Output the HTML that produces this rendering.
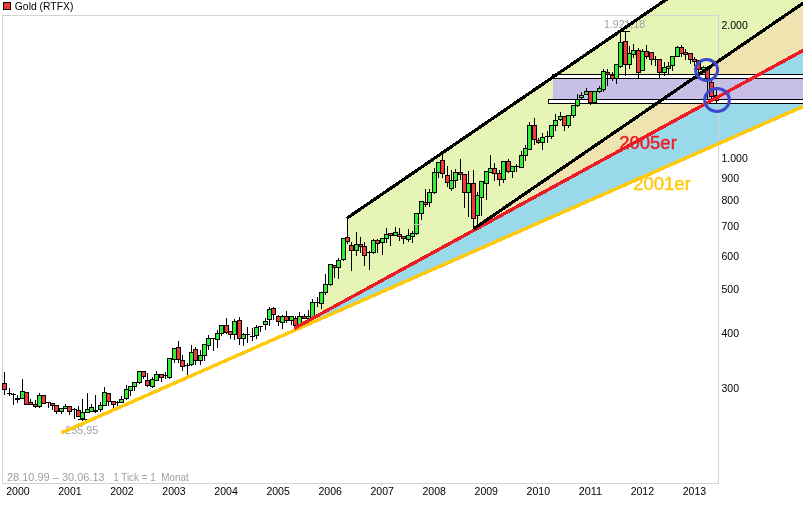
<!DOCTYPE html><html><head><meta charset="utf-8"><title>Gold (RTFX)</title><style>
html,body{margin:0;padding:0;background:#fff;}body{width:803px;height:506px;overflow:hidden;position:relative;}
svg{position:absolute;left:0;top:0;display:block;will-change:transform;}
text{font-family:"Liberation Sans",Arial,sans-serif;}
</style></head><body>
<svg width="803" height="506" viewBox="0 0 803 506">
<polygon fill="#e6f5b6" points="347.5,218.4 669.88,-3 806,-3 806,1.18 473.3,229.1 315.5,316.77 313,316.6 313,302.3 317.5,302.2 321.5,303 321.5,292.5 325.5,292.5 325.5,284.5 330.5,284.4 330.5,264.4 334.5,265.8 339.5,266.8 339.5,260.7 343.5,259.5 343.5,238.4 347.5,238"/>
<polygon fill="#efe4b0" points="497,212.86 806,1.18 806,48.86 497,217.63"/>
<polygon fill="#99d9ea" points="320,314.31 806,48.86 806,105.18 320,319.08"/>
<rect x="553" y="79" width="250" height="20" fill="#c8bfe7"/>
<g shape-rendering="crispEdges" stroke="#d4d4d4" stroke-width="1" fill="none">
<path d="M2.5 15.5H718.5V483.5H2.5Z"/>
<path d="M17.5 483V485M69.5 483V485M121.5 483V485M173.5 483V485M225.5 483V485M277.5 483V485M329.5 483V485M381.5 483V485M433.5 483V485M485.5 483V485M537.5 483V485M589.5 483V485M641.5 483V485M693.5 483V485"/>
</g>
<g shape-rendering="crispEdges" stroke="#000" stroke-width="1" fill="#fff">
<rect x="552.5" y="74.5" width="252" height="4"/>
<rect x="548.5" y="99.5" width="256" height="4"/>
</g>
<g font-size="11" fill="#000">
<rect x="3.5" y="2.5" width="7" height="7" fill="#f03a3a" stroke="#000" stroke-width="1" shape-rendering="crispEdges"/>
<text x="14.8" y="10.2" font-size="10.5" textLength="58.6" lengthAdjust="spacingAndGlyphs">Gold (RTFX)</text>
<text x="17.9" y="495" text-anchor="middle" textLength="23.4" lengthAdjust="spacingAndGlyphs">2000</text>
<text x="69.94" y="495" text-anchor="middle" textLength="23.4" lengthAdjust="spacingAndGlyphs">2001</text>
<text x="121.98" y="495" text-anchor="middle" textLength="23.4" lengthAdjust="spacingAndGlyphs">2002</text>
<text x="174.02" y="495" text-anchor="middle" textLength="23.4" lengthAdjust="spacingAndGlyphs">2003</text>
<text x="226.06" y="495" text-anchor="middle" textLength="23.4" lengthAdjust="spacingAndGlyphs">2004</text>
<text x="278.1" y="495" text-anchor="middle" textLength="23.4" lengthAdjust="spacingAndGlyphs">2005</text>
<text x="330.14" y="495" text-anchor="middle" textLength="23.4" lengthAdjust="spacingAndGlyphs">2006</text>
<text x="382.18" y="495" text-anchor="middle" textLength="23.4" lengthAdjust="spacingAndGlyphs">2007</text>
<text x="434.22" y="495" text-anchor="middle" textLength="23.4" lengthAdjust="spacingAndGlyphs">2008</text>
<text x="486.26" y="495" text-anchor="middle" textLength="23.4" lengthAdjust="spacingAndGlyphs">2009</text>
<text x="538.3" y="495" text-anchor="middle" textLength="23.4" lengthAdjust="spacingAndGlyphs">2010</text>
<text x="590.34" y="495" text-anchor="middle" textLength="23.4" lengthAdjust="spacingAndGlyphs">2011</text>
<text x="642.38" y="495" text-anchor="middle" textLength="23.4" lengthAdjust="spacingAndGlyphs">2012</text>
<text x="694.42" y="495" text-anchor="middle" textLength="23.4" lengthAdjust="spacingAndGlyphs">2013</text>
<text x="721.5" y="28.7" textLength="26.29" lengthAdjust="spacingAndGlyphs">2.000</text>
<text x="721.5" y="161.7" textLength="26.29" lengthAdjust="spacingAndGlyphs">1.000</text>
<text x="721.5" y="181.8" textLength="17.53" lengthAdjust="spacingAndGlyphs">900</text>
<text x="721.5" y="203.5" textLength="17.53" lengthAdjust="spacingAndGlyphs">800</text>
<text x="721.5" y="229.7" textLength="17.53" lengthAdjust="spacingAndGlyphs">700</text>
<text x="721.5" y="259.7" textLength="17.53" lengthAdjust="spacingAndGlyphs">600</text>
<text x="721.5" y="293.4" textLength="17.53" lengthAdjust="spacingAndGlyphs">500</text>
<text x="721.5" y="336.6" textLength="17.53" lengthAdjust="spacingAndGlyphs">400</text>
<text x="721.5" y="391.9" textLength="17.53" lengthAdjust="spacingAndGlyphs">300</text>
</g>
<g font-size="11" fill="#a0a0a0">
<text x="7" y="480.6" font-size="10.5" textLength="97.6" lengthAdjust="spacingAndGlyphs">28.10.99 – 30.06.13</text>
<text x="113.2" y="480.6" font-size="10.5" textLength="75.5" lengthAdjust="spacingAndGlyphs">1 Tick = 1 &#160;Monat</text>
<text x="65.3" y="433.5" textLength="33" lengthAdjust="spacingAndGlyphs">255,95</text>
<text x="604" y="27.8" textLength="41" lengthAdjust="spacingAndGlyphs">1.921,18</text>
</g>
<path d="M4.5 372V395M9.5 388V396M13.5 393V405M17.5 395V403M22.5 379V399M30.5 399V405M35.5 400V408M39.5 393V408M48.5 402V408M52.5 403V410M56.5 405V414M61.5 408V414M65.5 404V409M69.5 406V415M74.5 408V419M78.5 406V417M82.5 399V421M87.5 393V413M91.5 404V412M95.5 395V413M100.5 402V412M104.5 387V406M108.5 393V406M113.5 401V408M117.5 401V408M121.5 396V403M126.5 385V400M130.5 386V396M134.5 382V391M139.5 371V384M143.5 371V379M147.5 373V387M152.5 377V388M156.5 371V381M161.5 374V382M165.5 372V379M169.5 358V379M174.5 348V363M178.5 341V363M182.5 355V371M187.5 363V377M191.5 345V366M195.5 347V365M200.5 350V365M204.5 344V361M208.5 335V350M213.5 338V351M217.5 330V348M221.5 325V336M226.5 318V334M230.5 331V339M234.5 319V340M239.5 317V345M243.5 333V346M247.5 327V343M252.5 328V341M256.5 325V339M260.5 326V332M265.5 318V330M269.5 307V326M273.5 307V320M278.5 315V326M282.5 315V329M286.5 311V323M291.5 316V325M295.5 316V328M299.5 312V325M304.5 314V319M308.5 310V320M312.5 299V318M317.5 297V307M321.5 292V309M325.5 274V295M330.5 264V286M334.5 265V278M338.5 258V279M343.5 238V261M347.5 219V244M351.5 242V271M356.5 232V256M360.5 237V253M364.5 242V266M369.5 251V270M373.5 239V254M377.5 239V253M382.5 238V255M386.5 228V243M390.5 233V246M395.5 227V236M399.5 228V241M403.5 236V244M408.5 229V242M412.5 231V243M416.5 213V235M421.5 201V220M425.5 189V207M429.5 189V207M434.5 168V194M438.5 162V178M442.5 155V178M447.5 166V187M451.5 170V191M455.5 169V188M460.5 159V180M464.5 174V208M468.5 171V217M473.5 170V230M477.5 192V227M481.5 181V216M486.5 171V200M490.5 155V173M494.5 163V181M499.5 170V186M503.5 161V183M508.5 159V173M512.5 166V178M516.5 164V172M521.5 151V168M525.5 145V161M529.5 122V150M534.5 118V145M538.5 138V144M542.5 133V150M547.5 131V143M551.5 125V139M555.5 114V131M560.5 112V121M564.5 116V131M568.5 115V128M573.5 105V118M577.5 94V107M581.5 92V99M586.5 88V95M590.5 91V105M599.5 86V93M603.5 69V92M607.5 69V86M612.5 72V81M616.5 64V84M620.5 31V68M625.5 31V76M629.5 46V69M633.5 44V58M638.5 48V78M642.5 49V71M646.5 45V59M651.5 52V65M655.5 56V66M659.5 59V78M664.5 62V76M668.5 62V74M672.5 56V71M677.5 46V57M681.5 45V57M685.5 49V60M690.5 53V64M694.5 57V66M698.5 60V73M703.5 66V73M707.5 66V99M711.5 78V99M716.5 90V103" stroke="#000" stroke-width="1" fill="none" shape-rendering="crispEdges"/>
<g shape-rendering="crispEdges" stroke-width="1">
<rect x="2.5" y="383.5" width="4" height="6" fill="#f03a3a" stroke="#000"/><rect x="7" y="393" width="5" height="1" fill="#000"/><rect x="11" y="394" width="5" height="1" fill="#000"/><rect x="15" y="398" width="5" height="2" fill="#000"/><rect x="20.5" y="391.5" width="4" height="7" fill="#30ee30" stroke="#000"/><rect x="24.5" y="392.5" width="4" height="12" fill="#f03a3a" stroke="#000"/><rect x="28.5" y="402.5" width="4" height="2" fill="#f03a3a" stroke="#000"/><rect x="33.5" y="404.5" width="4" height="2" fill="#f03a3a" stroke="#000"/><rect x="37.5" y="395.5" width="4" height="11" fill="#30ee30" stroke="#000"/><rect x="41.5" y="395.5" width="4" height="8" fill="#f03a3a" stroke="#000"/><rect x="46" y="402" width="5" height="1" fill="#000"/><rect x="50.5" y="403.5" width="4" height="2" fill="#f03a3a" stroke="#000"/><rect x="54.5" y="405.5" width="4" height="6" fill="#f03a3a" stroke="#000"/><rect x="59.5" y="408.5" width="4" height="3" fill="#30ee30" stroke="#000"/><rect x="63.5" y="406.5" width="4" height="2" fill="#30ee30" stroke="#000"/><rect x="67.5" y="406.5" width="4" height="5" fill="#f03a3a" stroke="#000"/><rect x="72" y="409" width="5" height="1" fill="#000"/><rect x="76.5" y="410.5" width="4" height="6" fill="#f03a3a" stroke="#000"/><rect x="80.5" y="412.5" width="4" height="6" fill="#30ee30" stroke="#000"/><rect x="85.5" y="409.5" width="4" height="3" fill="#30ee30" stroke="#000"/><rect x="89.5" y="407.5" width="4" height="4" fill="#30ee30" stroke="#000"/><rect x="93" y="410" width="5" height="2" fill="#000"/><rect x="98.5" y="405.5" width="4" height="4" fill="#30ee30" stroke="#000"/><rect x="102.5" y="392.5" width="4" height="13" fill="#30ee30" stroke="#000"/><rect x="106.5" y="393.5" width="4" height="8" fill="#f03a3a" stroke="#000"/><rect x="111.5" y="401.5" width="4" height="3" fill="#f03a3a" stroke="#000"/><rect x="115" y="402" width="5" height="1" fill="#000"/><rect x="119.5" y="399.5" width="4" height="3" fill="#30ee30" stroke="#000"/><rect x="124.5" y="389.5" width="4" height="9" fill="#30ee30" stroke="#000"/><rect x="128.5" y="386.5" width="4" height="4" fill="#30ee30" stroke="#000"/><rect x="132.5" y="382.5" width="4" height="4" fill="#30ee30" stroke="#000"/><rect x="137.5" y="371.5" width="4" height="11" fill="#30ee30" stroke="#000"/><rect x="141.5" y="371.5" width="4" height="5" fill="#f03a3a" stroke="#000"/><rect x="145.5" y="380.5" width="4" height="5" fill="#f03a3a" stroke="#000"/><rect x="150.5" y="379.5" width="4" height="7" fill="#30ee30" stroke="#000"/><rect x="154.5" y="374.5" width="4" height="6" fill="#30ee30" stroke="#000"/><rect x="159.5" y="374.5" width="4" height="3" fill="#f03a3a" stroke="#000"/><rect x="163" y="375" width="5" height="1" fill="#000"/><rect x="167.5" y="358.5" width="4" height="19" fill="#30ee30" stroke="#000"/><rect x="172.5" y="348.5" width="4" height="11" fill="#30ee30" stroke="#000"/><rect x="176.5" y="347.5" width="4" height="12" fill="#f03a3a" stroke="#000"/><rect x="180.5" y="360.5" width="4" height="6" fill="#f03a3a" stroke="#000"/><rect x="185" y="365" width="5" height="1" fill="#000"/><rect x="189.5" y="352.5" width="4" height="12" fill="#30ee30" stroke="#000"/><rect x="193.5" y="349.5" width="4" height="11" fill="#f03a3a" stroke="#000"/><rect x="198.5" y="355.5" width="4" height="5" fill="#30ee30" stroke="#000"/><rect x="202.5" y="344.5" width="4" height="11" fill="#30ee30" stroke="#000"/><rect x="206.5" y="338.5" width="4" height="7" fill="#30ee30" stroke="#000"/><rect x="211" y="338" width="5" height="1" fill="#000"/><rect x="215.5" y="333.5" width="4" height="6" fill="#30ee30" stroke="#000"/><rect x="219.5" y="325.5" width="4" height="8" fill="#30ee30" stroke="#000"/><rect x="224.5" y="325.5" width="4" height="7" fill="#f03a3a" stroke="#000"/><rect x="228.5" y="331.5" width="4" height="3" fill="#f03a3a" stroke="#000"/><rect x="232.5" y="321.5" width="4" height="13" fill="#30ee30" stroke="#000"/><rect x="237.5" y="320.5" width="4" height="18" fill="#f03a3a" stroke="#000"/><rect x="241.5" y="334.5" width="4" height="4" fill="#30ee30" stroke="#000"/><rect x="245" y="334" width="5" height="1" fill="#000"/><rect x="250" y="336" width="5" height="1" fill="#000"/><rect x="254.5" y="327.5" width="4" height="8" fill="#30ee30" stroke="#000"/><rect x="258" y="326" width="5" height="1" fill="#000"/><rect x="263.5" y="321.5" width="4" height="3" fill="#30ee30" stroke="#000"/><rect x="267.5" y="309.5" width="4" height="10" fill="#30ee30" stroke="#000"/><rect x="271.5" y="308.5" width="4" height="6" fill="#f03a3a" stroke="#000"/><rect x="276.5" y="316.5" width="4" height="5" fill="#f03a3a" stroke="#000"/><rect x="280.5" y="316.5" width="4" height="6" fill="#30ee30" stroke="#000"/><rect x="284.5" y="316.5" width="4" height="4" fill="#f03a3a" stroke="#000"/><rect x="289.5" y="316.5" width="4" height="4" fill="#30ee30" stroke="#000"/><rect x="293.5" y="318.5" width="4" height="7" fill="#f03a3a" stroke="#000"/><rect x="297.5" y="316.5" width="4" height="8" fill="#30ee30" stroke="#000"/><rect x="302.5" y="316.5" width="4" height="2" fill="#f03a3a" stroke="#000"/><rect x="306.5" y="316.5" width="4" height="2" fill="#30ee30" stroke="#000"/><rect x="310.5" y="302.5" width="4" height="15" fill="#30ee30" stroke="#000"/><rect x="315" y="302" width="5" height="1" fill="#000"/><rect x="319.5" y="292.5" width="4" height="11" fill="#30ee30" stroke="#000"/><rect x="323.5" y="284.5" width="4" height="8" fill="#30ee30" stroke="#000"/><rect x="328.5" y="264.5" width="4" height="20" fill="#30ee30" stroke="#000"/><rect x="332.5" y="265.5" width="4" height="2" fill="#f03a3a" stroke="#000"/><rect x="336.5" y="260.5" width="4" height="7" fill="#30ee30" stroke="#000"/><rect x="341.5" y="238.5" width="4" height="21" fill="#30ee30" stroke="#000"/><rect x="345.5" y="237.5" width="4" height="4" fill="#f03a3a" stroke="#000"/><rect x="349.5" y="245.5" width="4" height="5" fill="#f03a3a" stroke="#000"/><rect x="354.5" y="244.5" width="4" height="6" fill="#30ee30" stroke="#000"/><rect x="358.5" y="244.5" width="4" height="2" fill="#f03a3a" stroke="#000"/><rect x="362.5" y="246.5" width="4" height="9" fill="#f03a3a" stroke="#000"/><rect x="367" y="252" width="5" height="1" fill="#000"/><rect x="371.5" y="240.5" width="4" height="12" fill="#30ee30" stroke="#000"/><rect x="375.5" y="240.5" width="4" height="3" fill="#f03a3a" stroke="#000"/><rect x="380.5" y="238.5" width="4" height="4" fill="#30ee30" stroke="#000"/><rect x="384.5" y="234.5" width="4" height="4" fill="#30ee30" stroke="#000"/><rect x="388.5" y="233.5" width="4" height="2" fill="#f03a3a" stroke="#000"/><rect x="393.5" y="232.5" width="4" height="3" fill="#30ee30" stroke="#000"/><rect x="397.5" y="234.5" width="4" height="2" fill="#f03a3a" stroke="#000"/><rect x="401.5" y="236.5" width="4" height="2" fill="#f03a3a" stroke="#000"/><rect x="406.5" y="235.5" width="4" height="4" fill="#30ee30" stroke="#000"/><rect x="410.5" y="233.5" width="4" height="3" fill="#30ee30" stroke="#000"/><rect x="414.5" y="213.5" width="4" height="20" fill="#30ee30" stroke="#000"/><rect x="419.5" y="201.5" width="4" height="12" fill="#30ee30" stroke="#000"/><rect x="423.5" y="202.5" width="4" height="2" fill="#f03a3a" stroke="#000"/><rect x="427.5" y="192.5" width="4" height="10" fill="#30ee30" stroke="#000"/><rect x="432.5" y="172.5" width="4" height="20" fill="#30ee30" stroke="#000"/><rect x="436.5" y="162.5" width="4" height="10" fill="#30ee30" stroke="#000"/><rect x="440.5" y="160.5" width="4" height="13" fill="#f03a3a" stroke="#000"/><rect x="445.5" y="175.5" width="4" height="7" fill="#f03a3a" stroke="#000"/><rect x="449.5" y="180.5" width="4" height="8" fill="#30ee30" stroke="#000"/><rect x="453.5" y="172.5" width="4" height="8" fill="#30ee30" stroke="#000"/><rect x="458.5" y="172.5" width="4" height="2" fill="#f03a3a" stroke="#000"/><rect x="462.5" y="174.5" width="4" height="18" fill="#f03a3a" stroke="#000"/><rect x="466.5" y="183.5" width="4" height="9" fill="#30ee30" stroke="#000"/><rect x="471.5" y="183.5" width="4" height="35" fill="#f03a3a" stroke="#000"/><rect x="475.5" y="195.5" width="4" height="20" fill="#30ee30" stroke="#000"/><rect x="479.5" y="181.5" width="4" height="16" fill="#30ee30" stroke="#000"/><rect x="484.5" y="171.5" width="4" height="12" fill="#30ee30" stroke="#000"/><rect x="488.5" y="168.5" width="4" height="4" fill="#30ee30" stroke="#000"/><rect x="492.5" y="168.5" width="4" height="5" fill="#f03a3a" stroke="#000"/><rect x="497.5" y="173.5" width="4" height="6" fill="#f03a3a" stroke="#000"/><rect x="501.5" y="161.5" width="4" height="18" fill="#30ee30" stroke="#000"/><rect x="506.5" y="161.5" width="4" height="10" fill="#f03a3a" stroke="#000"/><rect x="510.5" y="166.5" width="4" height="5" fill="#30ee30" stroke="#000"/><rect x="514" y="166" width="5" height="1" fill="#000"/><rect x="519.5" y="155.5" width="4" height="12" fill="#30ee30" stroke="#000"/><rect x="523.5" y="148.5" width="4" height="7" fill="#30ee30" stroke="#000"/><rect x="527.5" y="125.5" width="4" height="24" fill="#30ee30" stroke="#000"/><rect x="532.5" y="125.5" width="4" height="14" fill="#f03a3a" stroke="#000"/><rect x="536.5" y="140.5" width="4" height="2" fill="#f03a3a" stroke="#000"/><rect x="540.5" y="137.5" width="4" height="5" fill="#30ee30" stroke="#000"/><rect x="545" y="136" width="5" height="1" fill="#000"/><rect x="549.5" y="125.5" width="4" height="11" fill="#30ee30" stroke="#000"/><rect x="553.5" y="120.5" width="4" height="5" fill="#30ee30" stroke="#000"/><rect x="558.5" y="116.5" width="4" height="3" fill="#30ee30" stroke="#000"/><rect x="562.5" y="116.5" width="4" height="9" fill="#f03a3a" stroke="#000"/><rect x="566.5" y="115.5" width="4" height="10" fill="#30ee30" stroke="#000"/><rect x="571.5" y="105.5" width="4" height="10" fill="#30ee30" stroke="#000"/><rect x="575.5" y="99.5" width="4" height="6" fill="#30ee30" stroke="#000"/><rect x="579.5" y="95.5" width="4" height="2" fill="#30ee30" stroke="#000"/><rect x="584.5" y="91.5" width="4" height="3" fill="#30ee30" stroke="#000"/><rect x="588.5" y="91.5" width="4" height="11" fill="#f03a3a" stroke="#000"/><rect x="592.5" y="91.5" width="4" height="11" fill="#30ee30" stroke="#000"/><rect x="597.5" y="88.5" width="4" height="3" fill="#30ee30" stroke="#000"/><rect x="601.5" y="71.5" width="4" height="18" fill="#30ee30" stroke="#000"/><rect x="605.5" y="72.5" width="4" height="2" fill="#f03a3a" stroke="#000"/><rect x="610.5" y="75.5" width="4" height="3" fill="#f03a3a" stroke="#000"/><rect x="614.5" y="64.5" width="4" height="14" fill="#30ee30" stroke="#000"/><rect x="618.5" y="42.5" width="4" height="24" fill="#30ee30" stroke="#000"/><rect x="623.5" y="41.5" width="4" height="23" fill="#f03a3a" stroke="#000"/><rect x="627.5" y="53.5" width="4" height="11" fill="#30ee30" stroke="#000"/><rect x="631.5" y="50.5" width="4" height="4" fill="#30ee30" stroke="#000"/><rect x="636.5" y="50.5" width="4" height="22" fill="#f03a3a" stroke="#000"/><rect x="640.5" y="51.5" width="4" height="19" fill="#30ee30" stroke="#000"/><rect x="644.5" y="51.5" width="4" height="5" fill="#f03a3a" stroke="#000"/><rect x="649.5" y="52.5" width="4" height="7" fill="#f03a3a" stroke="#000"/><rect x="653" y="59" width="5" height="1" fill="#000"/><rect x="657.5" y="59.5" width="4" height="13" fill="#f03a3a" stroke="#000"/><rect x="662.5" y="67.5" width="4" height="5" fill="#30ee30" stroke="#000"/><rect x="666.5" y="66.5" width="4" height="2" fill="#30ee30" stroke="#000"/><rect x="670.5" y="56.5" width="4" height="9" fill="#30ee30" stroke="#000"/><rect x="675.5" y="47.5" width="4" height="9" fill="#30ee30" stroke="#000"/><rect x="679.5" y="47.5" width="4" height="6" fill="#f03a3a" stroke="#000"/><rect x="683.5" y="52.5" width="4" height="2" fill="#f03a3a" stroke="#000"/><rect x="688.5" y="53.5" width="4" height="6" fill="#f03a3a" stroke="#000"/><rect x="692.5" y="59.5" width="4" height="2" fill="#f03a3a" stroke="#000"/><rect x="696.5" y="60.5" width="4" height="9" fill="#f03a3a" stroke="#000"/><rect x="701.5" y="67.5" width="4" height="2" fill="#30ee30" stroke="#000"/><rect x="705.5" y="68.5" width="4" height="10" fill="#f03a3a" stroke="#000"/><rect x="709.5" y="82.5" width="4" height="14" fill="#f03a3a" stroke="#000"/><rect x="714.5" y="95.5" width="4" height="5" fill="#f03a3a" stroke="#000"/>
</g>
<path d="M413 224.5H422" stroke="#c4c4c4" stroke-width="1" shape-rendering="crispEdges"/>
<path d="M78 419.5H87M619.5 31.5H630" stroke="#000" stroke-width="1" shape-rendering="crispEdges"/>
<line x1="61.4" y1="432.9" x2="806" y2="105.18" stroke="#ffc90e" stroke-width="3.5" shape-rendering="crispEdges"/>
<line x1="294.2" y1="328.4" x2="806" y2="48.86" stroke="#ed1c24" stroke-width="3.4" shape-rendering="crispEdges"/>
<line x1="346.7" y1="218.4" x2="671.34" y2="-4" stroke="#000" stroke-width="3.2" shape-rendering="crispEdges"/>
<line x1="473.3" y1="229.1" x2="806" y2="1.18" stroke="#000" stroke-width="3.2" shape-rendering="crispEdges"/>
<ellipse cx="706.6" cy="70" rx="11" ry="10.5" fill="none" stroke="#3f48cc" stroke-width="3"/>
<ellipse cx="717" cy="100" rx="12.4" ry="11.5" fill="none" stroke="#3f48cc" stroke-width="3"/>
<text x="619.2" y="149" font-size="18.5" fill="#ed1c24" stroke="#ed1c24" stroke-width="0.45">2005er</text>
<text x="633.2" y="190" font-size="18.5" fill="#ffc90e" stroke="#ffc90e" stroke-width="0.45">2001er</text>
</svg></body></html>
